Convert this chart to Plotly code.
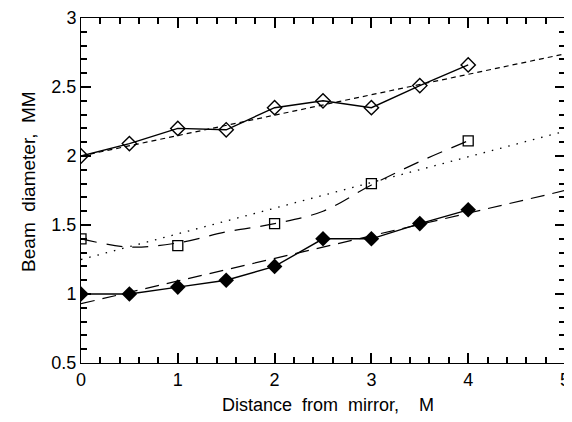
import plotly.graph_objects as go

x_meas = [0, 0.5, 1, 1.5, 2, 2.5, 3, 3.5, 4]
open_diamond = [2.0, 2.09, 2.2, 2.19, 2.35, 2.4, 2.35, 2.51, 2.66]
filled_diamond = [1.0, 1.0, 1.05, 1.1, 1.2, 1.4, 1.4, 1.51, 1.61]
x_sq = [0, 1, 2, 3, 4]
open_square = [1.4, 1.35, 1.51, 1.8, 2.11]

x_fit = [0, 5]
fit_open_diamond = [2.0, 2.74]
fit_square_dotted = [1.25, 2.18]
fit_filled_diamond = [0.93, 1.75]

x_curve = [0, 0.5, 1, 1.5, 2, 2.5, 3, 3.5, 4]
curve_square = [1.4, 1.34, 1.37, 1.45, 1.51, 1.6, 1.79, 1.96, 2.11]

x_title = "Distance\u00a0 from\u00a0 mirror,\u00a0\u00a0\u00a0 M"
y_title = "Beam\u00a0 diameter,\u00a0 MM"

fig = go.Figure()
fig.add_trace(go.Scatter(x=x_fit, y=fit_open_diamond, mode="lines",
                         line=dict(color="black", width=1.2, dash="5px,4px")))
fig.add_trace(go.Scatter(x=x_fit, y=fit_square_dotted, mode="lines",
                         line=dict(color="black", width=1.3, dash="1.5px,7px")))
fig.add_trace(go.Scatter(x=x_fit, y=fit_filled_diamond, mode="lines",
                         line=dict(color="black", width=1.2, dash="14px,8px")))
fig.add_trace(go.Scatter(x=x_curve, y=curve_square, mode="lines",
                         line=dict(color="black", width=1.2, dash="16px,10px", shape="spline")))
fig.add_trace(go.Scatter(x=x_meas, y=open_diamond, mode="lines+markers",
                         line=dict(color="black", width=1.4),
                         marker=dict(symbol="diamond-open", size=11, color="black", line=dict(width=1.4))))
fig.add_trace(go.Scatter(x=x_meas, y=filled_diamond, mode="lines+markers",
                         line=dict(color="black", width=1.4),
                         marker=dict(symbol="diamond", size=12, color="black")))
fig.add_trace(go.Scatter(x=x_sq, y=open_square, mode="markers",
                         marker=dict(symbol="square-open", size=10, color="black", line=dict(width=1.3))))

fig.update_layout(
    width=572, height=422,
    margin=dict(l=73, r=15, t=10, b=67),
    paper_bgcolor="white", plot_bgcolor="white",
    showlegend=False,
    font=dict(family="Liberation Sans, Arial, sans-serif", size=18, color="black"),
    xaxis=dict(range=[0, 5], dtick=1, ticks="inside", ticklen=10, tickwidth=2, tickcolor="black",
               showline=True, linecolor="black", mirror="allticks",
               automargin=False, ticklabeloverflow="allow",
               tickfont=dict(size=18),
               minor=dict(dtick=0.2, ticks="inside", ticklen=6, tickwidth=1.5, tickcolor="black")),
    yaxis=dict(range=[0.5, 3], dtick=0.5, ticks="inside", ticklen=10, tickwidth=2, tickcolor="black",
               showline=True, linecolor="black", mirror="allticks",
               automargin=False, ticklabeloverflow="allow",
               tickfont=dict(size=18),
               minor=dict(dtick=0.1, ticks="inside", ticklen=6, tickwidth=1.5, tickcolor="black")),
    annotations=[
        dict(text=x_title, xref="paper", yref="paper", x=0.51, y=0, yshift=-42,
             xanchor="center", yanchor="middle", showarrow=False, font=dict(size=18)),
        dict(text=y_title, xref="paper", yref="paper", x=0, y=0.525, xshift=-52,
             xanchor="center", yanchor="middle", textangle=-90, showarrow=False, font=dict(size=19)),
    ],
)
fig.write_html("out.html")
